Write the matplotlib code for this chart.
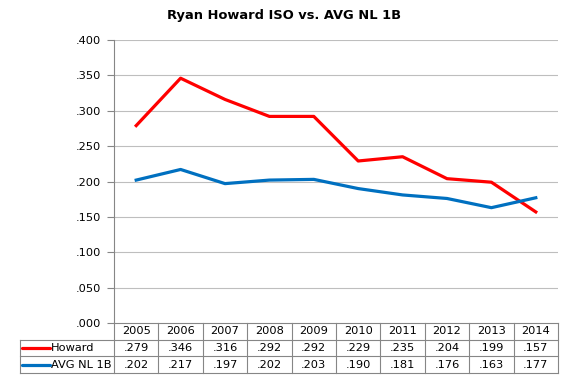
import numpy as np
import matplotlib.pyplot as plt
from matplotlib.transforms import blended_transform_factory

years = ["2005", "2006", "2007", "2008", "2009", "2010", "2011", "2012", "2013", "2014"]
howard = [0.279, 0.346, 0.316, 0.292, 0.292, 0.229, 0.235, 0.204, 0.199, 0.157]
avg_nl_1b = [0.202, 0.217, 0.197, 0.202, 0.203, 0.190, 0.181, 0.176, 0.163, 0.177]
series_names = ["Howard", "AVG NL 1B"]
series_colors = ["#FF0000", "#0070C0"]
y_ticks = [0.0, 0.05, 0.10, 0.15, 0.20, 0.25, 0.30, 0.35, 0.40]

W, H = 571, 380
axis_col = "#868686"
grid_col = "#BEBEBE"
txt_col = "#000000"
fs = 8.2

fig = plt.figure(figsize=(W / 100, H / 100), dpi=100)
ax = fig.add_axes([114 / W, 1 - 323 / H, 444 / W, 283 / H])

x = np.arange(len(years))
for vals, color in zip([howard, avg_nl_1b], series_colors):
    ax.plot(x, vals, color=color, lw=2.3, solid_joinstyle="round", zorder=3)

ax.set_xlim(-0.5, len(years) - 0.5)
ax.set_ylim(0, 0.4)
ax.set_yticks(y_ticks)
ax.set_yticklabels([f"{t:.3f}"[1:] for t in y_ticks], fontsize=fs, color=txt_col)
ax.tick_params(axis="y", length=5, color=axis_col, pad=4)
ax.set_xticks([])
for t in y_ticks[1:]:
    ax.axhline(t, color=grid_col, lw=0.8, zorder=1)
for s in ["top", "right", "bottom"]:
    ax.spines[s].set_visible(False)
ax.spines["left"].set_color(axis_col)
ax.spines["left"].set_linewidth(0.8)

# data table under the plot
tr = blended_transform_factory(ax.transData, ax.transAxes)
row_h = 16.7 / 283
n = len(years)
label_left = -0.5 - 94 / 44.4
kw = dict(color=axis_col, lw=0.8, clip_on=False, transform=tr)

# horizontal lines
ax.plot([-0.5, n - 0.5], [0, 0], **kw)
for r in (1, 2, 3):
    ax.plot([label_left, n - 0.5], [-r * row_h, -r * row_h], **kw)
# vertical lines
for i in range(n + 1):
    ax.plot([i - 0.5, i - 0.5], [0, -3 * row_h], **kw)
ax.plot([label_left, label_left], [-row_h, -3 * row_h], **kw)

for i, yr in enumerate(years):
    ax.text(i, -0.5 * row_h, yr, ha="center", va="center", fontsize=fs,
            color=txt_col, transform=tr)
for r, (vals, name, color) in enumerate(zip([howard, avg_nl_1b], series_names, series_colors), start=1):
    yc = -(r + 0.5) * row_h
    for i, v in enumerate(vals):
        ax.text(i, yc, f"{v:.3f}"[1:], ha="center", va="center", fontsize=fs,
                color=txt_col, transform=tr)
    ax.plot([label_left + 0.05, label_left + 0.68], [yc, yc], color=color, lw=2.3,
            clip_on=False, transform=tr, solid_capstyle="round")
    ax.text(label_left + 0.7, yc, name, ha="left", va="center", fontsize=fs,
            color=txt_col, transform=tr)

fig.text(284 / W, 1 - 16 / H, "Ryan Howard ISO vs. AVG NL 1B", ha="center", va="center",
         fontsize=9.4, fontweight="bold", color=txt_col)

fig.savefig("out.png", dpi=100)
